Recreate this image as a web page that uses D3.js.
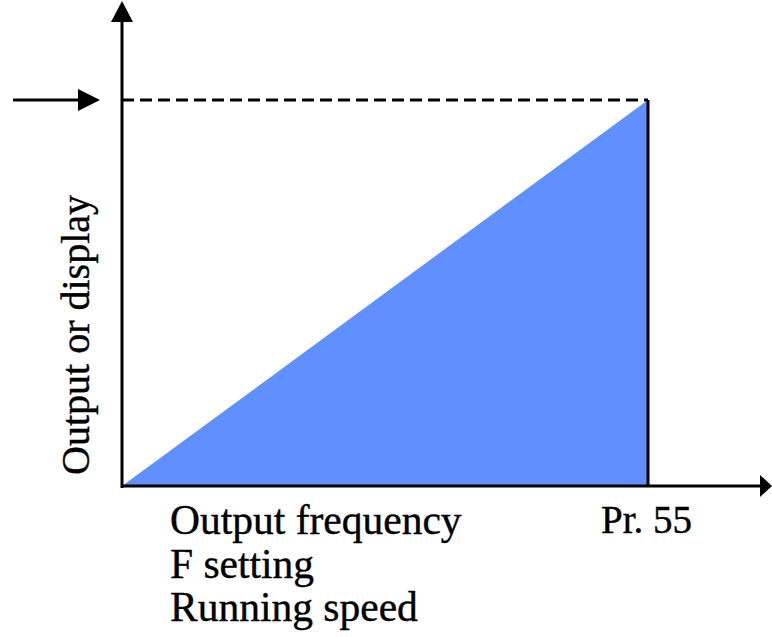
<!DOCTYPE html>
<html>
<head>
<meta charset="utf-8">
<script src="https://cdn.jsdelivr.net/npm/d3@7"></script>
<style>
  body { margin: 0; background: #fff; }
  text { font-family: "Liberation Serif", "Times New Roman", serif; fill: #000; }
</style>
</head>
<body>
<div id="chart"></div>
<script>
const WIDTH = 772;
const HEIGHT = 637;

// ramp: output rises linearly from 0 up to the Pr. 55 point
const rampX = [0, 100, 100];
const rampY = [0, 100, 0];
const rampTopY = 100;           // level of dashed guide + marker arrow
const xLabelLines = ["Output frequency", "F setting", "Running speed"];
const xMarkLabel = "Pr. 55";
const yLabel = "Output or display";

const x = d3.scaleLinear().domain([0, 100]).range([122, 648]);
const y = d3.scaleLinear().domain([0, 100]).range([486, 100]);

const svg = d3.select("#chart").append("svg")
  .attr("width", WIDTH)
  .attr("height", HEIGHT);

// filled triangle
const tri = rampX.map((v, i) => [x(v), y(rampY[i])]);
svg.append("path")
  .attr("d", d3.line()(tri) + "Z")
  .attr("fill", "#6090ff");

// right edge of the ramp
svg.append("line")
  .attr("x1", x(100)).attr("x2", x(100))
  .attr("y1", y(0)).attr("y2", y(rampTopY))
  .attr("stroke", "#000").attr("stroke-width", 3);

// dashed guide
svg.append("line")
  .attr("x1", x(0)).attr("x2", x(100))
  .attr("y1", y(rampTopY)).attr("y2", y(rampTopY))
  .attr("stroke", "#000").attr("stroke-width", 3)
  .attr("stroke-dasharray", "12,6");

// axes
svg.append("line")
  .attr("x1", x(0) - 1).attr("x2", 762)
  .attr("y1", y(0)).attr("y2", y(0))
  .attr("stroke", "#000").attr("stroke-width", 3);
svg.append("path")
  .attr("d", `M772,${y(0)} L760,${y(0) - 11} L760,${y(0) + 11} Z`)
  .attr("fill", "#000");

svg.append("line")
  .attr("x1", x(0)).attr("x2", x(0))
  .attr("y1", y(0) + 2).attr("y2", 18)
  .attr("stroke", "#000").attr("stroke-width", 3);
svg.append("path")
  .attr("d", `M${x(0)},1 L${x(0) - 11},22 L${x(0) + 11},22 Z`)
  .attr("fill", "#000");

// marker arrow on the left
svg.append("line")
  .attr("x1", 13).attr("x2", 82)
  .attr("y1", y(rampTopY)).attr("y2", y(rampTopY))
  .attr("stroke", "#000").attr("stroke-width", 3);
svg.append("path")
  .attr("d", `M100,${y(rampTopY)} L78,${y(rampTopY) - 11} L78,${y(rampTopY) + 11} Z`)
  .attr("fill", "#000");

// labels
svg.selectAll(".xlab")
  .data(xLabelLines)
  .enter()
  .append("text")
  .attr("class", "xlab")
  .attr("x", 170)
  .attr("y", (d, i) => 534 + i * 43.5)
  .style("font-size", "41.5px")
  .style("stroke", "#000")
  .style("stroke-width", "0.4px")
  .text(d => d);

svg.append("text")
  .attr("x", 601)
  .attr("y", 533)
  .style("font-size", "39px")
  .style("stroke", "#000")
  .style("stroke-width", "0.4px")
  .text(xMarkLabel);

svg.append("text")
  .attr("transform", "translate(89,335) rotate(-90)")
  .attr("text-anchor", "middle")
  .style("font-size", "40px")
  .style("stroke", "#000")
  .style("stroke-width", "0.4px")
  .text(yLabel);
</script>
</body>
</html>
